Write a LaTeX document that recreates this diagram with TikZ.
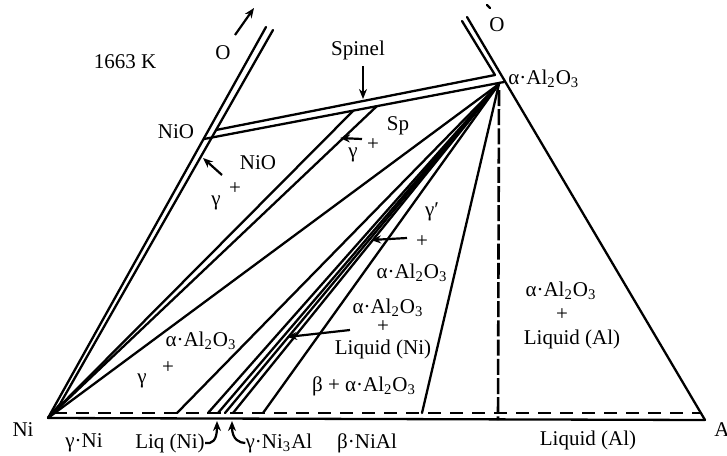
\documentclass[tikz,border=0pt]{standalone}
\usepackage{fontspec}
\setmainfont{Liberation Serif}
\usetikzlibrary{arrows.meta}
\begin{document}
\begin{tikzpicture}[x=0.5pt,y=-0.5pt,
  ln/.style={line width=1.15pt, line cap=round},
  dsh/.style={line width=1.2pt, dash pattern=on 6.5pt off 4.5pt},
  dashdot/.style={line width=1.3pt, dash pattern=on 8pt off 1.6pt},
  lbl/.style={font=\fontsize{10.5}{12}\selectfont, inner sep=0pt},
  arr/.style={line width=1.1pt, -{Stealth[length=5pt,width=4pt]}}]
\fill[white] (0,0) rectangle (727,455);
\useasboundingbox (0,0) rectangle (727,455);
% corners
\coordinate (Ni) at (48,418);
\coordinate (Al) at (705,420);
\coordinate (P) at (499,84);
% Ni-O edge (double line)
\coordinate (NOLt) at (266,27);
\coordinate (NORb) at (60,404);
\coordinate (NORt) at (273,30);
% Al-O edge
\coordinate (AOLt) at (462,21);
\coordinate (AORt) at (467,17);
% tie band NiO - Al2O3
\coordinate (U1) at (216,130);
\coordinate (U2) at (495,75);
\coordinate (L1) at (204,139);
\coordinate (L2) at (504,82);
% spinel tie lines
\coordinate (S1) at (353,111);
\coordinate (S2) at (377,106);
% base points on dashed line
\coordinate (D0) at (54,413);
\coordinate (D9) at (701,413);
\coordinate (b1) at (177,413);
\coordinate (b2) at (208,413);
\coordinate (b3) at (218,413);
\coordinate (b4) at (225,413);
\coordinate (b5) at (233,413);
\coordinate (b6) at (263,413);
\coordinate (b7) at (422,413);
\coordinate (vt) at (499,90);
\coordinate (vb) at (498,420);

% edges
\draw[ln] (Ni) -- (NOLt);
\draw[ln] (Ni) -- (NORb) -- (NORt);
\draw[ln] (Al) -- (AORt);
\draw[ln] (AOLt) -- (U2);
\draw[ln] (Ni) -- (Al);
\draw[dsh] (D0) -- (D9);
% tie band
\draw[ln] (U1) -- (U2);
\draw[ln] (L1) -- (L2);
% Ni - spinel
\draw[ln] (Ni) -- (S1);
\draw[ln] (Ni) -- (S2);
% Ni - Al2O3
\draw[ln] (Ni) -- (P);
% fan from Al2O3
\foreach \b in {b1,b2,b3,b4,b5,b6,b7} \draw[ln] (\b) -- (P);
\draw[dashdot] (vt) -- (vb);

% arrows
\coordinate (aOt) at (235,35); \coordinate (aOh) at (254,8);
\draw[arr] (aOt) -- (aOh);
\coordinate (mk1) at (487,5); \coordinate (mk2) at (490,8);
\draw[ln] (mk1) -- (mk2);
\coordinate (spT) at (363,66); \coordinate (spH) at (363,99);
\draw[arr, line width=1.4pt] (spT) -- (spH);
\coordinate (nioT) at (222,175); \coordinate (nioH) at (203,158);
\draw[arr] (nioT) -- (nioH);
\coordinate (gspT) at (362,139); \coordinate (gspH) at (340,138);
\draw[arr] (gspT) -- (gspH);
\coordinate (gpT) at (407,238); \coordinate (gpH) at (371,240);
\draw[arr] (gpT) -- (gpH);
\coordinate (lqT) at (350,330); \coordinate (lqH) at (287,337);
\draw[arr] (lqT) -- (lqH);

% labels
\node[lbl] (t1663) at (125,62) {1663 K};
\node[lbl] (oL) at (223,53) {O};
\node[lbl] (spinel) at (358,50) {Spinel};
\node[lbl] (oR) at (497,25) {O};
\node[lbl,anchor=west] (al2o3) at (508,79) {α·Al\textsubscript{2}O\textsubscript{3}};
\node[lbl] (nio1) at (176,132) {NiO};
\node[lbl] (nio2) at (258,163) {NiO};
\node[lbl] (pl1) at (235,189) {+};
\node[lbl] (g1) at (216,203) {γ};
\node[lbl] (sp) at (398,126) {Sp};
\node[lbl] (pl2) at (373,145) {+};
\node[lbl] (g2) at (353,155) {γ};
\node[lbl] (gp) at (432,212) {γ′};
\node[lbl] (pl3) at (422,242) {+};
\node[lbl] (a1) at (412,273) {α·Al\textsubscript{2}O\textsubscript{3}};
\node[lbl] (a2) at (388,308) {α·Al\textsubscript{2}O\textsubscript{3}};
\node[lbl] (pl4) at (383,327) {+};
\node[lbl] (lqni) at (383,349) {Liquid (Ni)};
\node[lbl] (ba) at (364,386) {β + α·Al\textsubscript{2}O\textsubscript{3}};
\node[lbl] (a3) at (201,341) {α·Al\textsubscript{2}O\textsubscript{3}};
\node[lbl] (pl5) at (168,368) {+};
\node[lbl] (g3) at (142,381) {γ};
\node[lbl] (a4) at (561,291) {α·Al\textsubscript{2}O\textsubscript{3}};
\node[lbl] (pl6) at (562,315) {+};
\node[lbl] (lqal) at (572,339) {Liquid (Al)};
\node[lbl] (ni) at (23,430) {Ni};
\node[lbl] (gni) at (84,443) {γ·Ni};
\node[lbl] (lqn) at (170,443) {Liq (Ni)};
\node[lbl] (gni3) at (279,443) {γ·Ni\textsubscript{3}Al};
\node[lbl] (bnial) at (367,443) {β·NiAl};
\node[lbl] (lqal2) at (588,440) {Liquid (Al)};
\node[lbl,anchor=west] (alc) at (714,430) {A};

% base pointer arrows
\coordinate (lqnH) at (217,421);
\draw[arr] (lqn.east) .. controls (212,444) and (217,441) .. (lqnH);
\coordinate (g3H) at (232,421);
\draw[arr] (gni3.west) .. controls (240,443) and (232,440) .. (g3H);
\end{tikzpicture}
\end{document}
